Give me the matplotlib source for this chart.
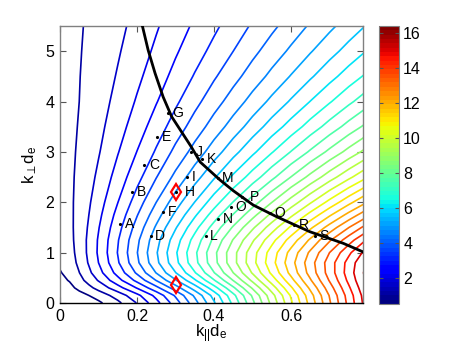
import numpy as np
import matplotlib
matplotlib.use('Agg')
import matplotlib.pyplot as plt
from matplotlib.colors import Normalize
import matplotlib as mpl

plt.rcParams['font.family'] = ['Liberation Sans', 'DejaVu Sans']
plt.rcParams['mathtext.fontset'] = 'custom'
plt.rcParams['mathtext.rm'] = 'Liberation Sans'
plt.rcParams['mathtext.it'] = 'Liberation Sans'

# ---- data ----
kpar = [0, 0.025, 0.05, 0.075, 0.1, 0.15, 0.2, 0.25, 0.3, 0.35, 0.4,
        0.45, 0.5, 0.55, 0.6, 0.65, 0.7, 0.75, 0.8]
kperp = [0, 0.15, 0.3, 0.45, 0.6, 0.8, 1.0, 1.25, 1.5, 1.75, 2.0,
         2.5, 3.0, 3.5, 4.0, 4.5, 5.0, 5.5]
# contoured quantity, one row per kperp value, one column per kpar value
field = [
    [0.00, 0.03, 0.11, 0.23, 0.40, 0.88, 1.52, 2.32, 3.25, 4.30, 5.43, 6.63, 7.87, 9.14, 10.41, 11.68, 12.93, 14.16, 15.34],
    [0.14, 0.20, 0.34, 0.50, 0.71, 1.21, 1.86, 2.65, 3.57, 4.59, 5.69, 6.86, 8.07, 9.31, 10.56, 11.80, 13.03, 14.23, 15.40],
    [0.26, 0.38, 0.61, 0.87, 1.16, 1.80, 2.53, 3.35, 4.25, 5.24, 6.30, 7.41, 8.56, 9.74, 10.92, 12.10, 13.27, 14.42, 15.54],
    [0.38, 0.53, 0.83, 1.18, 1.54, 2.32, 3.14, 4.02, 4.95, 5.93, 6.96, 8.02, 9.11, 10.22, 11.33, 12.44, 13.54, 14.62, 15.67],
    [0.47, 0.64, 0.99, 1.39, 1.81, 2.68, 3.58, 4.52, 5.48, 6.46, 7.48, 8.50, 9.55, 10.60, 11.65, 12.69, 13.72, 14.74, 15.73],
    [0.57, 0.75, 1.12, 1.55, 2.00, 2.94, 3.90, 4.87, 5.85, 6.84, 7.83, 8.83, 9.83, 10.82, 11.81, 12.78, 13.74, 14.69, 15.61],
    [0.65, 0.81, 1.18, 1.61, 2.07, 3.02, 3.98, 4.95, 5.93, 6.90, 7.87, 8.83, 9.79, 10.73, 11.67, 12.59, 13.50, 14.39, 15.27],
    [0.72, 0.86, 1.20, 1.61, 2.05, 2.96, 3.89, 4.82, 5.76, 6.69, 7.61, 8.53, 9.43, 10.33, 11.21, 12.08, 12.93, 13.77, 14.59],
    [0.76, 0.89, 1.18, 1.56, 1.97, 2.82, 3.69, 4.57, 5.45, 6.33, 7.20, 8.06, 8.91, 9.75, 10.58, 11.40, 12.20, 12.99, 13.76],
    [0.80, 0.90, 1.16, 1.50, 1.87, 2.66, 3.47, 4.28, 5.10, 5.92, 6.73, 7.53, 8.33, 9.12, 9.89, 10.66, 11.42, 12.16, 12.89],
    [0.82, 0.91, 1.14, 1.44, 1.77, 2.49, 3.24, 4.00, 4.76, 5.51, 6.27, 7.02, 7.76, 8.49, 9.22, 9.94, 10.65, 11.35, 12.03],
    [0.85, 0.92, 1.09, 1.33, 1.60, 2.20, 2.83, 3.48, 4.13, 4.79, 5.44, 6.09, 6.73, 7.37, 8.01, 8.64, 9.27, 9.88, 10.49],
    [0.87, 0.92, 1.05, 1.24, 1.46, 1.97, 2.51, 3.06, 3.63, 4.19, 4.76, 5.33, 5.89, 6.46, 7.02, 7.57, 8.12, 8.67, 9.21],
    [0.88, 0.92, 1.02, 1.18, 1.36, 1.79, 2.25, 2.74, 3.23, 3.72, 4.22, 4.72, 5.22, 5.72, 6.21, 6.71, 7.20, 7.69, 8.17],
    [0.89, 0.92, 1.00, 1.13, 1.28, 1.65, 2.05, 2.47, 2.91, 3.35, 3.79, 4.23, 4.68, 5.12, 5.56, 6.01, 6.45, 6.89, 7.32],
    [0.90, 0.92, 0.99, 1.09, 1.22, 1.54, 1.89, 2.26, 2.65, 3.04, 3.44, 3.83, 4.23, 4.63, 5.03, 5.43, 5.83, 6.23, 6.62],
    [0.90, 0.92, 0.98, 1.06, 1.17, 1.45, 1.76, 2.09, 2.44, 2.79, 3.14, 3.50, 3.87, 4.23, 4.59, 4.96, 5.32, 5.68, 6.04],
    [0.90, 0.92, 0.97, 1.04, 1.14, 1.37, 1.65, 1.95, 2.26, 2.58, 2.90, 3.23, 3.56, 3.89, 4.22, 4.56, 4.89, 5.22, 5.55],
]

curve_kpar = [0.214, 0.229, 0.247, 0.268, 0.290, 0.341, 0.364, 0.416, 0.450, 0.502, 0.563, 0.649, 0.736, 0.787]
curve_kperp = [5.50, 5.02, 4.56, 4.09, 3.70, 3.10, 2.80, 2.44, 2.23, 1.944, 1.712, 1.415, 1.184, 1.015]

labels = ['A', 'B', 'C', 'D', 'E', 'F', 'G', 'H', 'I', 'J', 'K', 'L', 'M', 'N', 'O', 'P', 'Q', 'R', 'S']
pt_kpar = [0.157, 0.187, 0.219, 0.236, 0.252, 0.268, 0.281, 0.300, 0.331, 0.340,
           0.369, 0.378, 0.410, 0.411, 0.443, 0.474, 0.545, 0.608, 0.662]
pt_kperp = [1.567, 2.196, 2.748, 1.336, 3.294, 1.812, 3.764, 2.200, 2.494, 3.000,
            2.850, 1.336, 2.474, 1.667, 1.899, 2.109, 1.780, 1.548, 1.335]

diam_kpar = [0.300, 0.300]
diam_kperp = [2.200, 0.357]

levels = np.arange(0.5, 16.01, 0.5)
cbar_ticks = [2, 4, 6, 8, 10, 12, 14, 16]
clim = (0.5, 16.4)
xticks = [0, 0.2, 0.4, 0.6]
xticklabels = ['0', '0.2', '0.4', '0.6']
yticks = [0, 1, 2, 3, 4, 5]

# ---- drawing ----
fig = plt.figure(figsize=(4.6, 3.47), dpi=100)
ax = fig.add_axes([60/460, 44/347, 303/460, 277/347])
cmap = plt.get_cmap('jet', 64)
norm = Normalize(*clim)
ax.contour(kpar, kperp, np.array(field), levels=levels, cmap=cmap, norm=norm,
           linewidths=1.2)
ax.plot(curve_kpar, curve_kperp, 'k-', lw=2.0, zorder=3)
ax.plot(pt_kpar, pt_kperp, 'k.', ms=2.5, zorder=4)
label_offset = {'H': 7.0, 'P': 5.0}
for lab, x, y in zip(labels, pt_kpar, pt_kperp):
    ax.annotate(lab, (x, y), xytext=(label_offset.get(lab, 3.2), 0),
                textcoords='offset points', ha='left', va='center',
                fontsize=10, zorder=5)
ax.plot(diam_kpar, diam_kperp, 'd', mfc='none', mec='red', mew=1.6, ms=8, zorder=4)

ax.set_xlim(0, 0.787)
ax.set_ylim(0, 5.5)
ax.set_xticks(xticks)
ax.set_xticklabels(xticklabels)
ax.set_yticks(yticks)
ax.tick_params(direction='in', top=True, right=True, length=4, width=0.8,
               labelsize=11.5, color='#555555', pad=4)
for s in ['top', 'right', 'left']:
    ax.spines[s].set_color('#808080')
ax.spines['bottom'].set_color('black')
for s in ax.spines.values():
    s.set_linewidth(1.0)
ax.set_xlabel(r'$\mathregular{k_{||}d_e}$', fontsize=12, va='center')
ax.xaxis.set_label_coords(0.5, -0.112)
ax.set_ylabel(r'$\mathregular{k_{\perp}d_e}$', fontsize=12, va='center')
ax.yaxis.set_label_coords(-0.099, 0.5)

cax = fig.add_axes([379/460, 43/347, 20/460, 278/347])
cb = mpl.colorbar.ColorbarBase(cax, cmap=cmap, norm=norm, ticks=cbar_ticks)
cb.outline.set_edgecolor('#808080')
cax.tick_params(direction='in', left=True, right=True, length=3, width=0.8,
                labelsize=11.5, color='#555555', pad=3)

fig.savefig('out.png', dpi=100)
